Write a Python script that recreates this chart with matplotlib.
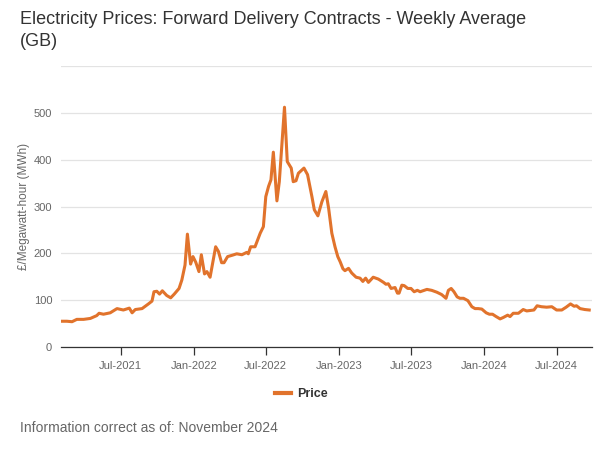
import matplotlib
matplotlib.use("Agg")
import matplotlib.pyplot as plt
import matplotlib.dates as mdates
import pandas as pd

plt.rcParams['font.family'] = ['Liberation Sans', 'DejaVu Sans']

dates = [
    "2021-01-31", "2021-02-16", "2021-03-01", "2021-03-13", "2021-03-30", "2021-04-16",
    "2021-05-02", "2021-05-08", "2021-05-19", "2021-06-05", "2021-06-22", "2021-07-08",
    "2021-07-23", "2021-07-30", "2021-08-07", "2021-08-24", "2021-09-09", "2021-09-18",
    "2021-09-23", "2021-09-30", "2021-10-07", "2021-10-14", "2021-10-25", "2021-11-04",
    "2021-11-13", "2021-11-25", "2021-12-02", "2021-12-10", "2021-12-16", "2021-12-24",
    "2021-12-30", "2022-01-06", "2022-01-14", "2022-01-20", "2022-01-28", "2022-02-03",
    "2022-02-11", "2022-02-25", "2022-03-04", "2022-03-12", "2022-03-18", "2022-03-27",
    "2022-04-08", "2022-04-19", "2022-05-02", "2022-05-14", "2022-05-18", "2022-05-24",
    "2022-06-04", "2022-06-17", "2022-06-25", "2022-07-01", "2022-07-08", "2022-07-14",
    "2022-07-20", "2022-07-29", "2022-08-04", "2022-08-17", "2022-08-24", "2022-09-03",
    "2022-09-08", "2022-09-15", "2022-09-21", "2022-10-05", "2022-10-14", "2022-10-25",
    "2022-10-31", "2022-11-09", "2022-11-19", "2022-11-29", "2022-12-06", "2022-12-14",
    "2022-12-22", "2022-12-29", "2023-01-04", "2023-01-11", "2023-01-16", "2023-01-25",
    "2023-02-02", "2023-02-13", "2023-02-23", "2023-03-02", "2023-03-09", "2023-03-16",
    "2023-03-28", "2023-04-10", "2023-04-23", "2023-04-29", "2023-05-05", "2023-05-12",
    "2023-05-22", "2023-05-28", "2023-06-01", "2023-06-08", "2023-06-14", "2023-06-23",
    "2023-07-01", "2023-07-09", "2023-07-17", "2023-07-24", "2023-08-03", "2023-08-10",
    "2023-08-22", "2023-09-04", "2023-09-16", "2023-09-27", "2023-10-03", "2023-10-10",
    "2023-10-17", "2023-10-25", "2023-11-01", "2023-11-10", "2023-11-21", "2023-12-01",
    "2023-12-09", "2023-12-17", "2023-12-26", "2024-01-06", "2024-01-14", "2024-01-22",
    "2024-01-31", "2024-02-10", "2024-02-18", "2024-02-29", "2024-03-06", "2024-03-14",
    "2024-03-27", "2024-04-08", "2024-04-17", "2024-04-27", "2024-05-05", "2024-05-13",
    "2024-05-24", "2024-06-06", "2024-06-19", "2024-07-01", "2024-07-14", "2024-07-25",
    "2024-08-05", "2024-08-14", "2024-08-20", "2024-08-29", "2024-09-10", "2024-09-21",
]
prices = [
    55, 55, 54, 59, 59, 61,
    67, 72, 70, 73, 82, 79,
    83, 73, 80, 82, 92, 98,
    118, 119, 113, 120, 110, 105,
    113, 125, 143, 175, 241, 177,
    193, 181, 161, 197, 156, 161,
    149, 214, 204, 180, 180, 193,
    196, 199, 197, 202, 199, 214,
    214, 243, 257, 321, 343, 357,
    416, 312, 353, 512, 396, 382,
    353, 355, 371, 382, 368, 321,
    293, 280, 310, 332, 296, 243,
    214, 193, 182, 167, 163, 168,
    158, 149, 147, 140, 147, 138,
    149, 145, 138, 134, 135, 125,
    127, 115, 115, 132, 131, 125,
    125, 118, 121, 118, 121, 123,
    121, 117, 112, 104, 121, 125,
    118, 107, 104, 104, 99, 86,
    82, 82, 81, 73, 70, 70,
    65, 60, 63, 68, 65, 72,
    72, 80, 77, 78, 79, 88,
    86, 85, 86, 79, 79, 85,
    92, 87, 88, 82, 80, 79,
]
series_name = "Price"
title = "Electricity Prices: Forward Delivery Contracts - Weekly Average\n(GB)"
ylabel = "£/Megawatt-hour (MWh)"
footnote = "Information correct as of: November 2024"
yticks = [0, 100, 200, 300, 400, 500, 600]
ytick_labels = ["0", "100", "200", "300", "400", "500", ""]
xtick_dates = ["2021-07-01", "2022-01-01", "2022-07-01", "2023-01-01",
               "2023-07-01", "2024-01-01", "2024-07-01"]

x = pd.to_datetime(dates)

fig = plt.figure(figsize=(6, 4.62), dpi=100)
ax = fig.add_axes([60.5 / 600, 1 - 347 / 462, (592 - 60.5) / 600, (347 - 66) / 462])

ax.plot(x, prices, color="#E1732C", lw=2.2, solid_joinstyle="round", label=series_name, zorder=3)

ax.set_ylim(0, 600)
ax.set_xlim(pd.Timestamp("2021-01-31"), pd.Timestamp("2024-09-28"))
ax.set_yticks(yticks)
ax.set_yticklabels(ytick_labels)
ax.set_xticks(pd.to_datetime(xtick_dates))
ax.xaxis.set_major_formatter(mdates.DateFormatter("%b-%Y"))

ax.grid(axis="y", color="#e3e3e3", lw=0.9, zorder=0)
for s in ["left", "right", "top"]:
    ax.spines[s].set_visible(False)
ax.spines["bottom"].set_color("#333333")
ax.spines["bottom"].set_linewidth(0.9)
ax.spines["bottom"].set_zorder(4)
ax.tick_params(axis="y", length=0, pad=6, labelsize=8, labelcolor="#666666")
ax.tick_params(axis="x", length=6, width=0.9, color="#333333", pad=4,
               labelsize=8, labelcolor="#666666")
ax.set_ylabel(ylabel, fontsize=8.5, color="#666666")
ax.yaxis.set_label_coords(-0.058, 0.5)

fig.text(20 / 600, 1 - 11 / 462, title, fontsize=13, color="#333333",
         ha="left", va="top", linespacing=1.42)
fig.text(20 / 600, 1 - 428 / 462, footnote, fontsize=10, color="#666666",
         ha="left", va="center")

leg = fig.legend(loc="center", bbox_to_anchor=(0.502, 1 - 394 / 462), frameon=False,
                 handlelength=1.3, handletextpad=0.5, fontsize=9)
for t in leg.get_texts():
    t.set_fontweight("bold")
    t.set_color("#333333")
for h in leg.get_lines():
    h.set_linewidth(3)

fig.savefig("out.png", dpi=100)
